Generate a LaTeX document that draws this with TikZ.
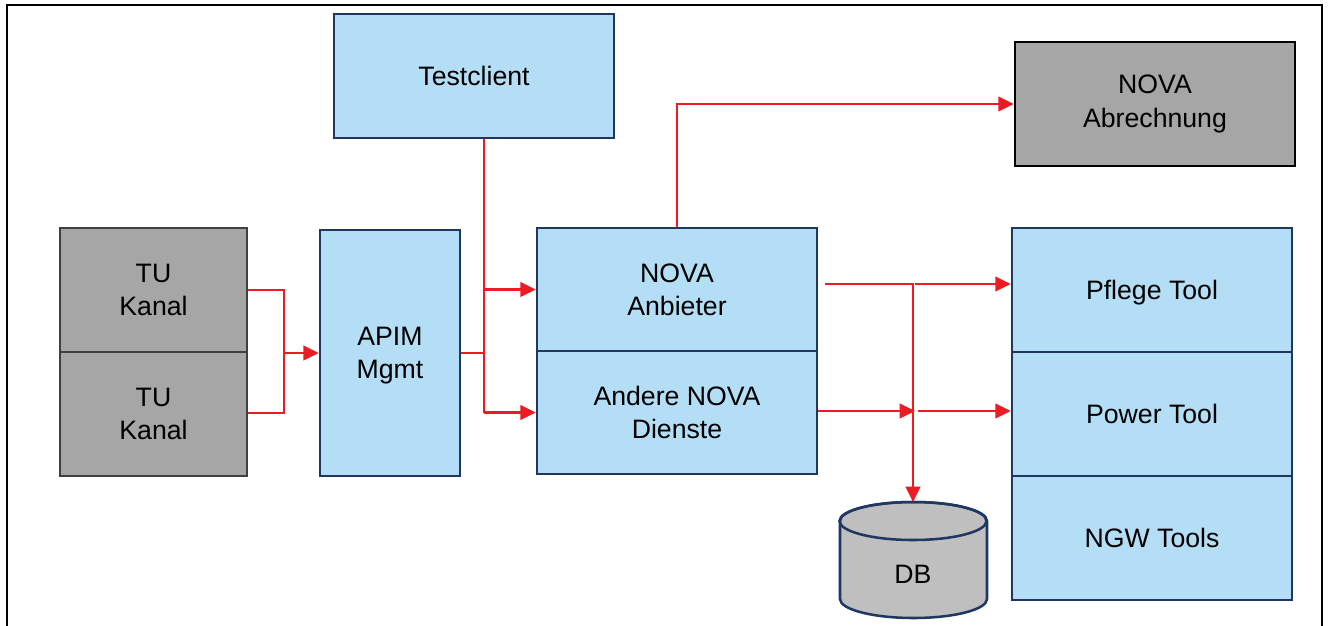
\documentclass[tikz,border=0pt]{standalone}
\usepackage{fontspec}
\setmainfont{Liberation Sans}
\usetikzlibrary{arrows.meta}
\definecolor{lblue}{HTML}{B3DEF5}
\definecolor{navy}{HTML}{1F3761}
\definecolor{gbox}{HTML}{A6A6A6}
\definecolor{gbord}{HTML}{404040}
\definecolor{dbgray}{HTML}{BFBFBF}
\definecolor{redl}{HTML}{ED1C24}
\begin{document}
\begin{tikzpicture}[x=0.75pt,y=-0.75pt,
  txt/.style={font=\fontsize{20}{25}\selectfont, align=center, text=black},
  bluebox/.style={txt, draw=navy, fill=lblue, line width=1.9pt, inner sep=0pt, text depth=0pt},
  graybox/.style={txt, draw=gbord, fill=gbox, line width=1.9pt, inner sep=0pt},
  blackbox/.style={txt, draw=black, fill=gbox, line width=1.9pt, inner sep=0pt},
  wide/.style={minimum width=210pt, minimum height=93pt},
  conn/.style={draw=redl, line width=1.6pt},
  arr/.style={conn, -{Triangle[length=11.5pt,width=11pt]}}]
\useasboundingbox (0,0) rectangle (1330,625);
\clip (0,0) rectangle (1330,625);
\fill[white] (0,0) rectangle (1330,625);
% frame
\draw[line width=2.2pt] (7,5) rectangle (1322,700);
% boxes
\node[bluebox, wide] (tc) at (474,76) {Testclient};
\node[blackbox, wide] (abr) at (1155,104) {NOVA\\Abrechnung};
\node[graybox, minimum width=140.25pt, minimum height=93pt] (tu1) at (153.5,290) {TU\\Kanal};
\node[graybox, minimum width=140.25pt, minimum height=93pt] (tu2) at (153.5,414) {TU\\Kanal};
\node[bluebox, minimum width=105pt, minimum height=184.5pt] (apim) at (390,353) {APIM\\Mgmt};
\node[bluebox, minimum width=210pt, minimum height=92.25pt] (anb) at (677,289.5) {NOVA\\Anbieter};
\node[bluebox, minimum width=210pt, minimum height=92.25pt] (and) at (677,412.5) {Andere NOVA\\Dienste};
\node[bluebox, wide] (pfl) at (1152,290) {Pflege Tool};
\node[bluebox, wide] (pow) at (1152,414) {Power Tool};
\node[bluebox, wide] (ngw) at (1152,538) {NGW Tools};
% DB cylinder
\filldraw[fill=dbgray, draw=navy, line width=1.9pt]
  (840,521) -- (840,599) arc[start angle=180, end angle=360, x radius=55.125pt, y radius=14.25pt]
  -- (987,521) arc[start angle=0, end angle=180, x radius=55.125pt, y radius=14.25pt] -- cycle;
\draw[navy, line width=1.9pt] (913,521) ellipse[x radius=55.125pt, y radius=14.25pt];
\node[txt] (db) at (913,574) {DB};
\coordinate (dbtop) at (913,502);
% connectors
\coordinate (j1) at (284,353);
\draw[conn] (tu1.east) -| (j1);
\draw[conn] (tu2.east -| tu1.east) ++(0,-1) -| (j1);
\draw[arr] (j1) -- (apim.west);
\coordinate (j2) at (484,353);
\draw[conn] (apim.east) -- (j2);
\draw[conn] (tc.south -| j2) -- (j2 |- and.west);
\draw[arr] (j2 |- anb.west) -- (anb.west);
\draw[arr] (j2 |- and.west) -- (and.west);
\draw[arr] (anb.north) |- (abr.west);
\coordinate (a1) at (825,284);
\coordinate (k) at (915,284);
\draw[arr] (a1) -| (dbtop);
\draw[arr] (k) -- (k -| pfl.west);
\coordinate (k2) at (915,411);
\coordinate (k3) at (918,411);
\draw[arr] (and.east |- k2) -- (k2);
\draw[arr] (k3) -- (k3 -| pow.west);
\end{tikzpicture}
\end{document}
